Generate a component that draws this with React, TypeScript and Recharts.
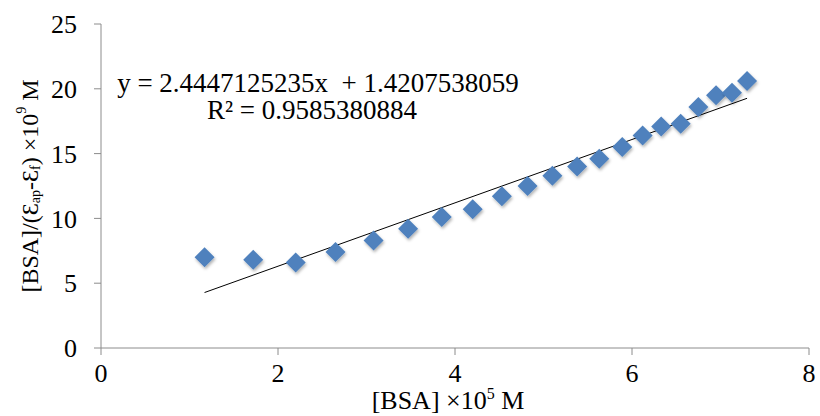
import React from 'react';
import { ScatterChart, Scatter, XAxis, YAxis, ReferenceLine } from 'recharts';

// [BSA] x10^5 M
const bsaValues = [1.17, 1.72, 2.2, 2.65, 3.08, 3.47, 3.85, 4.2, 4.53, 4.82, 5.1, 5.38, 5.63, 5.89, 6.12, 6.33, 6.55, 6.75, 6.95, 7.13, 7.3];
// [BSA]/(Eap-Ef) x10^9 M
const ratioValues = [7.0, 6.8, 6.6, 7.4, 8.3, 9.2, 10.1, 10.7, 11.7, 12.5, 13.3, 14.0, 14.6, 15.5, 16.4, 17.1, 17.3, 18.6, 19.5, 19.7, 20.6];

const xTicks = [0, 2, 4, 6, 8];
const yTicks = [0, 5, 10, 15, 20, 25];

const slope = 2.4447125235;
const intercept = 1.4207538059;
const rSquared = '0.9585380884';

const points = bsaValues.map((x, i) => ({ x, y: ratioValues[i] }));
const xMin = Math.min(...bsaValues);
const xMax = Math.max(...bsaValues);
const trendSegment = [
  { x: xMin, y: slope * xMin + intercept },
  { x: xMax, y: slope * xMax + intercept },
];

const FONT = '"Liberation Serif", "Times New Roman", serif';

const Diamond = (props: any) => {
  const { cx, cy } = props;
  const r = 10;
  return (
    <path
      d={`M${cx},${cy - r}L${cx + r},${cy}L${cx},${cy + r}L${cx - r},${cy}Z`}
      fill="#4F81BD"
      filter="url(#dshadow)"
    />
  );
};

const YTitle = () => (
  <text
    x={30}
    y={186}
    transform="rotate(-90 30 186)"
    textAnchor="middle"
    dominantBaseline="central"
    fontFamily={FONT}
    fontSize={24}
    fill="#000"
  >
    [BSA]/(Ɛ<tspan fontSize={14} dy={5}>ap</tspan>
    <tspan dy={-5}>-Ɛ</tspan>
    <tspan fontSize={14} dy={5}>f</tspan>
    <tspan dy={-5}>) ×10</tspan>
    <tspan fontSize={14} dy={-9}>9</tspan>
    <tspan dy={9}> M</tspan>
  </text>
);

const XTitle = () => (
  <text x={448} y={409} textAnchor="middle" fontFamily={FONT} fontSize={26} fill="#000">
    [BSA] ×10<tspan fontSize={16} dy={-10}>5</tspan>
    <tspan dy={10}> M</tspan>
  </text>
);

export default function App() {
  const tick = { fontFamily: FONT, fontSize: 26, fill: '#000' };
  return (
    <div style={{ position: 'absolute', left: 0, top: 0, width: 820, height: 416, background: '#fff' }}>
      <ScatterChart width={820} height={416} margin={{ top: 24, right: 11, bottom: 10, left: 41 }}>
        <defs>
          <filter id="dshadow" x="-50%" y="-50%" width="200%" height="200%">
            <feDropShadow dx={1} dy={2} stdDeviation={1.5} floodColor="#000" floodOpacity={0.3} />
          </filter>
        </defs>
        <XAxis
          type="number"
          dataKey="x"
          domain={[0, 8]}
          ticks={xTicks}
          height={58}
          tick={tick}
          tickSize={7}
          tickMargin={9}
          stroke="#8c8c8c"
          label={{ content: () => <XTitle /> }}
        />
        <YAxis
          type="number"
          dataKey="y"
          domain={[0, 25]}
          ticks={yTicks}
          width={60}
          tick={tick}
          tickSize={7}
          tickMargin={17}
          stroke="#8c8c8c"
          label={{ content: () => <YTitle /> }}
        />
        <ReferenceLine segment={trendSegment} stroke="#000" strokeWidth={1} ifOverflow="extendDomain" />
        <Scatter data={points} shape={Diamond} isAnimationActive={false} />
      </ScatterChart>
      <svg
        width={820}
        height={416}
        style={{ position: 'absolute', left: 0, top: 0, pointerEvents: 'none' }}
      >
        <text x={318} y={92} textAnchor="middle" fontFamily={FONT} fontSize={27} fill="#000" style={{ whiteSpace: 'pre' }}>
          {`y = ${slope.toFixed(10)}x  + ${intercept.toFixed(10)}`}
        </text>
        <text x={312} y={119} textAnchor="middle" fontFamily={FONT} fontSize={27} fill="#000">
          R² = {rSquared}
        </text>
      </svg>
    </div>
  );
}
